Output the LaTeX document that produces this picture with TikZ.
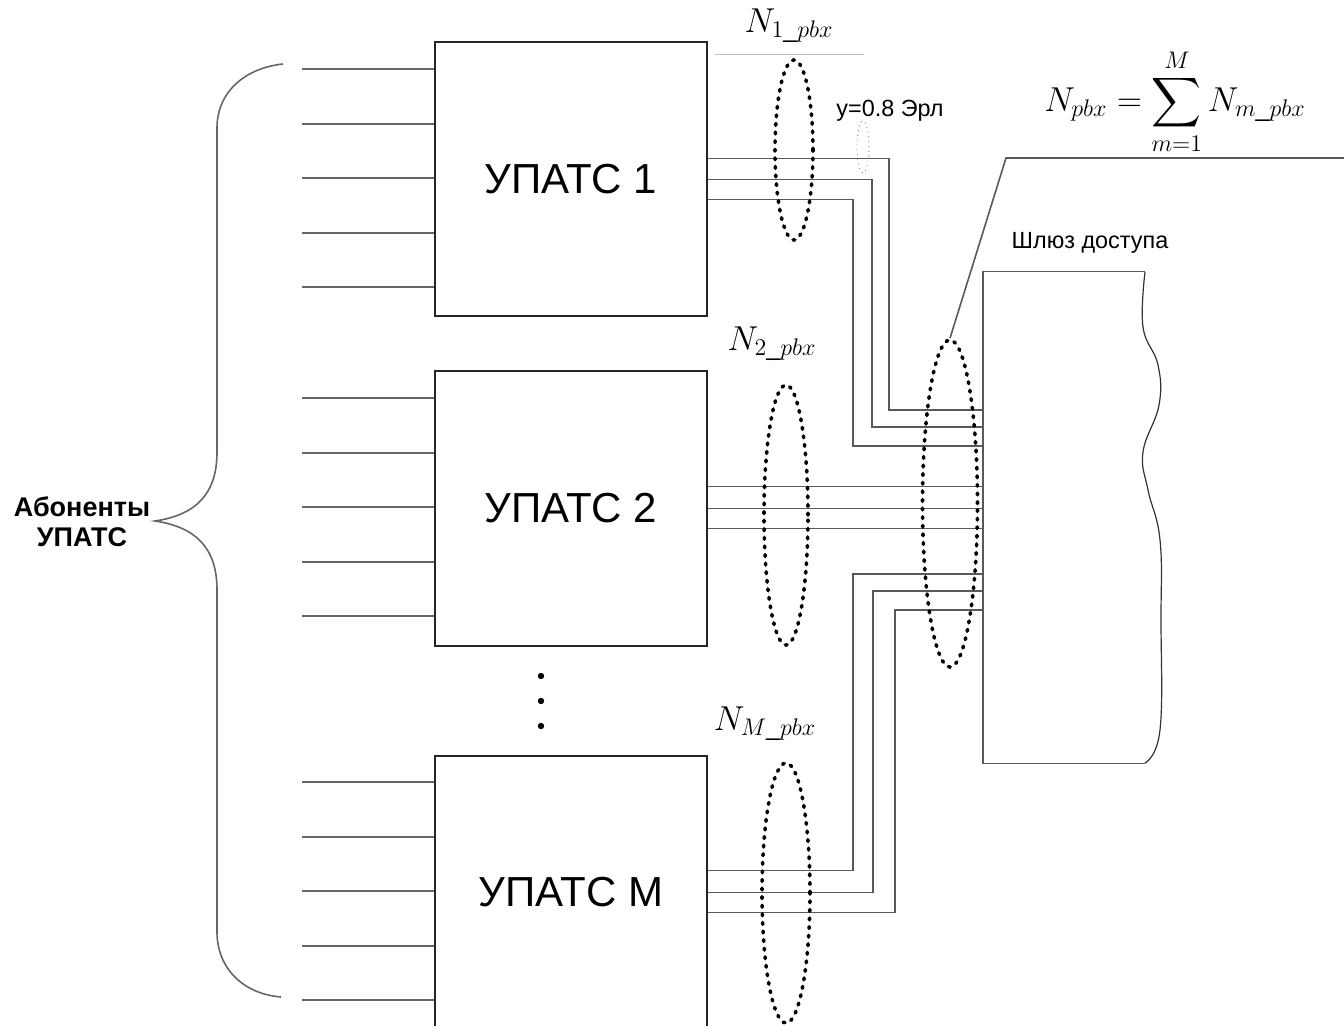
\documentclass[tikz,border=0pt]{standalone}
\usepackage{fontspec}
\setmainfont{Liberation Sans}
\usepackage{amsmath}
\usetikzlibrary{
  calc,
  positioning,
  shapes.geometric
}
\tikzset{>=stealth}
\tikzset{
  pbx/.style={draw=black!85, line width=1pt, minimum width=136pt, minimum height=137pt,
    inner sep=0pt, font=\fontsize{21}{24}\selectfont},
  subline/.style={draw=black!60, line width=1pt},
  wire/.style={draw=black!65, line width=0.9pt},
  bundle/.style={ellipse, draw, line width=1.8pt, dash pattern=on 0.9pt off 3.4pt,
    line cap=round, inner sep=0pt},
  chan/.style={ellipse, draw=black!60, line width=0.4pt, dotted, inner sep=0pt},
  tag/.style={font=\fontsize{18}{21}\selectfont}
}

\begin{document}
\begin{tikzpicture}[x=0.5pt,y=-0.5pt]
  \useasboundingbox (0,0) rectangle (1344,1026);
  % stations
  \node[pbx] (b1) at (571,179.5) {УПАТС 1};
  \node[pbx] (b2) at (571,508.5) {УПАТС 2};
  \node[pbx] (bM) at (571,892.5) {УПАТС М};
  \foreach \y in {676,701,726}
    \fill (541,\y) circle[radius=1.6pt];
  % subscriber lines
  \foreach \b in {b1,b2,bM}
    \foreach \k in {0,...,4}
      \draw[subline] ($(\b.north west)+(0,27.5+54.6*\k)$) -- ++(-132,0);
  \draw[black!60, line width=0.8pt] (283,64) .. controls (245,68) and (217,92) .. (217,128)
    -- (217,452) .. controls (217,495) and (195,515) .. (155,521)
    .. controls (195,527) and (217,547) .. (217,590)
    -- (217,932) .. controls (217,968) and (243,994) .. (281,997);
  \node[font=\bfseries\fontsize{13.5}{15}\selectfont, align=center] (subs) at (82,522) {Абоненты\\УПАТС};
  % gateway
  \node[minimum width=81pt, minimum height=245.5pt, inner sep=0pt] (gw) at (1064,517.5) {};
  \draw[black!65, line width=0.9pt] (gw.south east) -- (gw.south west) -- (gw.north west) -- (gw.north east);
  \draw[black!80, line width=0.6pt] plot[smooth, tension=0.7] coordinates {(1145,272) (1143,327)
    (1158,365) (1159,405) (1143,452) (1148,490) (1160,540) (1161,620) (1160,730) (1145,763)};
  \node[font=\fontsize{11.7}{13}\selectfont] (gwl) at (1090,243) {Шлюз доступа};
  % trunks
  \foreach \dy/\xt/\yg in {-21/889/410, 0/872/427, 20/853/446}
    \draw[wire] ($(b1.east)+(0,\dy)$) -| (\xt,\yg) coordinate (t) -- (t -| gw.west);
  \foreach \dy in {-22,0,20}
    \draw[wire] ($(b2.east)+(0,\dy)$) coordinate (t) -- (t -| gw.west);
  \foreach \dy/\xt/\yg in {-22/853/574, 0/873/591, 20/895/610}
    \draw[wire] ($(bM.east)+(0,\dy)$) -| (\xt,\yg) coordinate (t) -- (t -| gw.west);
  % bundles
  \node[bundle, minimum width=19pt, minimum height=90pt] (e1) at (794,150) {};
  \node[bundle, minimum width=22pt, minimum height=130pt] (e2) at (786,515) {};
  \node[bundle, minimum width=24pt, minimum height=130pt] (eM) at (786,893) {};
  \node[bundle, minimum width=27.5pt, minimum height=163.5pt] (eg) at (950,503.5) {};
  \node[chan, minimum width=6pt, minimum height=26pt] (ch) at (863,147) {};
  \node[font=\fontsize{11.7}{13}\selectfont] (chl) at (890,111) {y=0.8 Эрл};
  \draw[black!25, line width=0.5pt] (715,55) -- (864,55);
  \node[tag] (n1) at (789,26) {$N_{1\_pbx}$};
  \node[tag] (n2) at (772,344) {$N_{2\_pbx}$};
  \node[tag] (nM) at (765,724) {$N_{M\_pbx}$};
  % total
  \coordinate (knee) at (1006,158);
  \coordinate (tail) at (1344,158);
  \draw[black!65, line width=0.8pt] (eg.north) -- (knee) -- (tail);
  \node[font=\fontsize{18}{21}\selectfont] (sum) at (1175,102) {$\displaystyle N_{pbx}=\sum_{m=1}^{M}N_{m\_pbx}$};
\end{tikzpicture}
\end{document}
